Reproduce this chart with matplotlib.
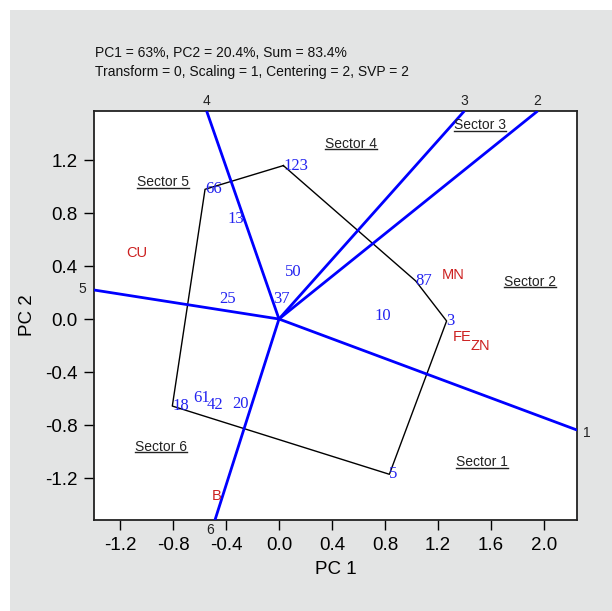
import matplotlib
matplotlib.use("Agg")
import matplotlib.pyplot as plt
from matplotlib.patches import Rectangle
from matplotlib.lines import Line2D

# ---------------- data ----------------
# genotype scores (PC1, PC2)
gen_names = ["123", "66", "18", "5", "3", "87", "13", "50", "25", "37", "10", "61", "42", "20"]
gen_pc1 = [0.033, -0.558, -0.805, 0.833, 1.265, 1.032, -0.385, 0.045, -0.453, -0.043, 0.717, -0.646, -0.546, -0.352]
gen_pc2 = [1.158, 0.979, -0.657, -1.172, -0.015, 0.287, 0.755, 0.355, 0.153, 0.153, 0.023, -0.596, -0.647, -0.642]

# convex hull (polygon) vertices, in drawing order
hull = ["123", "87", "3", "5", "18", "66", "123"]

# environment scores
env_names = ["CU", "MN", "FE", "ZN", "B"]
env_pc1 = [-1.155, 1.228, 1.313, 1.442, -0.508]
env_pc2 = [0.498, 0.332, -0.134, -0.204, -1.336]

# sector dividing rays from the origin (end points)
ray_names = ["1", "2", "3", "4", "5", "6"]
ray_pc1 = [2.249, 1.952, 1.399, -0.546, -1.396, -0.483]
ray_pc2 = [-0.838, 1.570, 1.570, 1.570, 0.219, -1.517]

sector_names = ["Sector 1", "Sector 2", "Sector 3", "Sector 4", "Sector 5", "Sector 6"]
sector_pc1 = [1.532, 1.894, 1.517, 0.543, -0.875, -0.891]
sector_pc2 = [-1.080, 0.280, 1.462, 1.321, 1.034, -0.966]

title_lines = ["PC1 = 63%, PC2 = 20.4%, Sum = 83.4%",
               "Transform = 0, Scaling = 1, Centering = 2, SVP = 2"]

xlim = (-1.396, 2.249)
ylim = (-1.517, 1.570)
xticks = [-1.2, -0.8, -0.4, 0.0, 0.4, 0.8, 1.2, 1.6, 2.0]
yticks = [-1.2, -0.8, -0.4, 0.0, 0.4, 0.8, 1.2]

# ---------------- plotting ----------------
sans = ["Liberation Sans", "DejaVu Sans"]
serif = ["Liberation Serif", "DejaVu Serif"]
plt.rcParams["font.family"] = sans

W, H = 612, 611
fig = plt.figure(figsize=(W / 100, H / 100), dpi=100, facecolor="white")
fig.patches.append(Rectangle((10 / W, 0), 1, 1 - 10 / H, transform=fig.transFigure,
                             facecolor="#e3e4e4", edgecolor="none", zorder=-10))

ax = fig.add_axes([94 / W, 91 / H, 483 / W, 409 / H])
ax.set_xlim(*xlim)
ax.set_ylim(*ylim)
ax.set_facecolor("white")

for s in ax.spines.values():
    s.set_linewidth(1.3)
    s.set_color("#222222")

ax.set_xticks(xticks)
ax.set_yticks(yticks)
ax.set_xticklabels([f"{v:.1f}" for v in xticks])
ax.set_yticklabels([f"{v:.1f}" for v in yticks])
ax.tick_params(direction="out", length=7, width=1, labelsize=13.5, pad=5)
ax.set_xlabel("PC 1", fontsize=13.5, labelpad=5)
ax.set_ylabel("PC 2", fontsize=13.5, labelpad=6)

# polygon joining the outermost genotypes
idx = {n: i for i, n in enumerate(gen_names)}
ax.plot([gen_pc1[idx[n]] for n in hull], [gen_pc2[idx[n]] for n in hull],
        color="black", lw=1.0, zorder=2)

# sector rays
for name, x, y in zip(ray_names, ray_pc1, ray_pc2):
    ax.plot([0, x], [0, y], color="#0000ff", lw=2.0, zorder=3, solid_capstyle="butt")
    if abs(x - xlim[1]) < 1e-3:
        off, ha, va = (6, -3), "left", "center"
    elif abs(x - xlim[0]) < 1e-3:
        off, ha, va = (-8, 1), "right", "center"
    elif abs(y - ylim[1]) < 1e-3:
        off, ha, va = (0, 3), "center", "bottom"
    else:
        off, ha, va = (-1, -3), "right", "top"
    ax.annotate(name, (x, y), xytext=off, textcoords="offset pixels",
                ha=ha, va=va, fontsize=10, color="#222222", annotation_clip=False)

# genotype labels
for name, x, y in zip(gen_names, gen_pc1, gen_pc2):
    ax.text(x, y, name, color="#2323f0", fontsize=12, family=serif,
            ha="left", va="center", zorder=4)

# environment labels
for name, x, y in zip(env_names, env_pc1, env_pc2):
    ax.text(x, y, name, color="#cc2020", fontsize=10.5, ha="left", va="center", zorder=4)

# sector names, underlined
sector_texts = []
for name, x, y in zip(sector_names, sector_pc1, sector_pc2):
    sector_texts.append(ax.text(x, y, name, fontsize=10, color="#222222",
                                ha="center", va="center", zorder=4))

fig.text(95 / W, 1 - 53 / H, title_lines[0], fontsize=10, color="#111111", va="center")
fig.text(95 / W, 1 - 72 / H, title_lines[1], fontsize=10, color="#111111", va="center")

fig.canvas.draw()
r = fig.canvas.get_renderer()
inv = fig.transFigure.inverted()
for t in sector_texts:
    bb = t.get_window_extent(r)
    (x0, y0), (x1, _) = inv.transform([[bb.x0, bb.y0 + 1.5], [bb.x1, bb.y0 + 1.5]])
    fig.lines.append(Line2D([x0, x1], [y0, y0], transform=fig.transFigure,
                            color="#222222", lw=1.0))

fig.savefig("out.png", dpi=100, facecolor=fig.get_facecolor())
